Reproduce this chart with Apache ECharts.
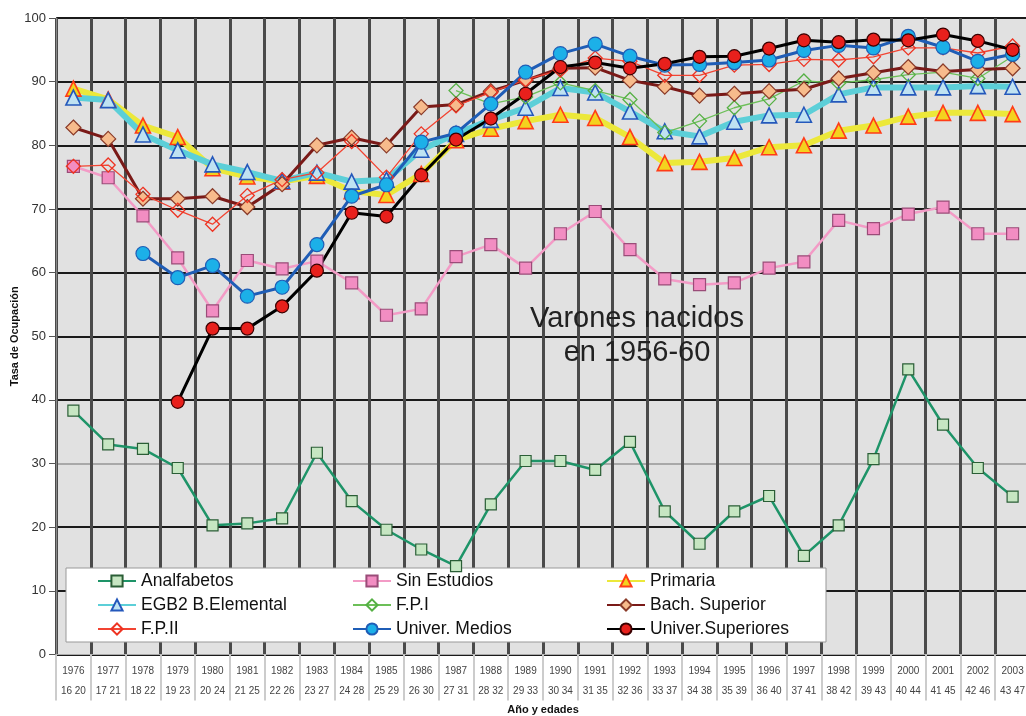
<!DOCTYPE html>
<html>
<head>
<meta charset="utf-8">
<script src="https://cdn.jsdelivr.net/npm/echarts@6/dist/echarts.min.js"></script>
<style>
html,body{margin:0;padding:0;background:#fff;}
#chart{width:1026px;height:716px;}
</style>
</head>
<body>
<div id="chart"></div>
<script>
const years = ['1976','1977','1978','1979','1980','1981','1982','1983','1984','1985','1986','1987','1988','1989','1990','1991','1992','1993','1994','1995','1996','1997','1998','1999','2000','2001','2002','2003'];
const ages = ['16 20','17 21','18 22','19 23','20 24','21 25','22 26','23 27','24 28','25 29','26 30','27 31','28 32','29 33','30 34','31 35','32 36','33 37','34 38','35 39','36 40','37 41','38 42','39 43','40 44','41 45','42 46','43 47'];
const yTicks = [0,10,20,30,40,50,60,70,80,90,100];

const analfabetos = [38.3,33.0,32.3,29.3,20.3,20.6,21.4,31.7,24.1,19.6,16.5,13.9,23.6,30.4,30.4,29.0,33.4,22.5,17.4,22.5,24.9,15.5,20.3,30.7,44.8,36.1,29.3,24.8];
const sinEstudios = [76.7,74.9,68.9,62.3,54.0,61.9,60.6,61.8,58.4,53.3,54.3,62.5,64.4,60.7,66.1,69.6,63.6,59.0,58.1,58.4,60.7,61.7,68.2,66.9,69.2,70.3,66.1,66.1];
const primaria = [88.9,87.2,83.1,81.3,76.4,75.1,74.3,75.2,72.8,72.2,75.5,80.8,82.6,83.8,84.8,84.3,81.3,77.2,77.4,78.0,79.7,80.0,82.3,83.1,84.5,85.1,85.1,84.9];
const egb2 = [87.5,87.1,81.7,79.2,77.0,75.8,74.4,75.7,74.3,74.6,79.3,81.8,84.0,85.9,89.0,88.3,85.3,82.2,81.4,83.7,84.7,84.8,88.0,89.1,89.1,89.1,89.3,89.2];
const fp1 = [null,null,null,null,null,null,null,null,null,null,null,88.6,86.5,87.6,89.8,88.6,87.2,82.0,83.8,85.9,87.3,90.1,89.8,90.3,91.1,91.5,90.5,94.0];
const bachSuperior = [82.8,81.0,71.6,71.6,72.0,70.3,73.9,80.0,81.2,80.0,86.0,86.4,88.5,90.2,92.1,92.2,90.2,89.2,87.8,88.1,88.5,88.8,90.5,91.4,92.3,91.6,91.9,92.1];
const fp2 = [76.7,76.9,72.3,69.8,67.6,72.1,74.6,75.7,80.6,75.0,81.8,86.2,88.3,90.3,91.8,93.7,93.2,91.0,91.0,92.6,92.7,93.5,93.4,93.9,95.3,95.3,94.5,95.6];
const univMedios = [null,null,63.0,59.2,61.1,56.3,57.7,64.4,72.0,73.8,80.5,81.9,86.5,91.5,94.4,95.9,94.0,92.6,92.7,93.0,93.4,94.9,95.7,95.3,97.1,95.4,93.2,94.3];
const univSuperiores = [null,null,null,39.7,51.2,51.2,54.7,60.3,69.4,68.8,75.3,80.9,84.2,88.1,92.3,93.0,92.1,92.8,93.9,94.0,95.2,96.5,96.2,96.6,96.5,97.4,96.4,95.0];

const FONT = "'Liberation Sans',Arial,sans-serif";

function mk(name, data, lineColor, lineWidth, symbol, size, fill, border, borderW) {
  return {
    name: name, type: 'line', data: data, symbol: symbol, symbolSize: size,
    lineStyle: { color: lineColor, width: lineWidth },
    itemStyle: { color: fill, borderColor: border, borderWidth: borderW || 1.2 },
    emphasis: { disabled: true }, animation: false
  };
}

const series = [
  mk('Analfabetos', analfabetos, '#1e9468', 2.5, 'rect', 11, '#c6e6c2', '#2a5e36'),
  mk('Sin Estudios', sinEstudios, '#f39bc6', 2.5, 'rect', 12, '#f28dc2', '#9a4c78'),
  mk('Primaria', primaria, '#ece83a', 6, 'triangle', 15, '#f4d21e', '#ff3c18', 1.6),
  mk('EGB2 B.Elemental', egb2, '#5ccfd8', 6, 'triangle', 15, '#bfe2f2', '#2458bb', 1.6),
  mk('F.P.I', fp1, '#6cbf58', 1.3, 'diamond', 14, 'rgba(0,0,0,0)', '#55b044', 1.3),
  mk('Bach. Superior', bachSuperior, '#7a1a18', 3, 'diamond', 15, '#f7bb8c', '#8a3a28', 1.2),
  mk('F.P.II', fp2, '#f24432', 1.3, 'diamond', 14, 'rgba(0,0,0,0)', '#ee3322', 1.3),
  mk('Univer. Medios', univMedios, '#1f5db6', 3, 'circle', 14, '#1cb0e8', '#1f5db6', 1.2),
  mk('Univer.Superiores', univSuperiores, '#000000', 3, 'circle', 13, '#e8201c', '#3a0000', 1.2)
];

const legendBase = {
  orient: 'vertical', top: 572, itemWidth: 38, itemHeight: 14, itemGap: 6,
  textStyle: { fontFamily: FONT, fontSize: 17.5, color: '#111' },
  selectedMode: false, backgroundColor: 'transparent', padding: 0
};

const chart = echarts.init(document.getElementById('chart'), null, { renderer: 'canvas' });
chart.setOption({
  animation: false,
  backgroundColor: '#ffffff',
  grid: { left: 56, right: -4, top: 18, bottom: 61.5, show: true, backgroundColor: '#e1e1e1', borderWidth: 0,
    containLabel: false, outerBoundsMode: 'none' },
  xAxis: {
    type: 'category', data: years, boundaryGap: true,
    name: 'Año y edades', nameLocation: 'middle', nameGap: 50, nameMoveOverlap: false,
    nameTextStyle: { fontFamily: FONT, fontSize: 11, fontWeight: 'bold', color: '#111' },
    axisLine: { show: true, lineStyle: { color: '#aaaaaa', width: 1 } },
    axisTick: { show: true, length: 46, lineStyle: { color: '#cccccc', width: 2 } },
    axisLabel: {
      interval: 0, margin: 7, fontFamily: FONT, fontSize: 10, color: '#444', lineHeight: 20,
      formatter: function (v, i) { return years[i] + '\n' + ages[i]; }
    },
    splitLine: { show: true, interval: 0, lineStyle: { color: '#4a4a4a', width: 3 } }
  },
  yAxis: {
    type: 'value', min: 0, max: 100, interval: 10,
    name: 'Tasa de Ocupación', nameLocation: 'middle', nameGap: 36, nameRotate: 90, nameMoveOverlap: false,
    nameTextStyle: { fontFamily: FONT, fontSize: 11, fontWeight: 'bold', color: '#111' },
    axisLine: { show: true, lineStyle: { color: '#888', width: 1 } },
    axisTick: { show: true, length: 7, lineStyle: { color: '#555' } },
    axisLabel: { margin: 10, fontFamily: FONT, fontSize: 13, color: '#333',
      formatter: function (v) { return yTicks.indexOf(v) >= 0 ? String(v) : ''; } },
    splitLine: { show: true, lineStyle: { color: ['#1a1a1a','#1a1a1a','#1a1a1a','#a8a8a8','#1a1a1a','#1a1a1a','#1a1a1a','#1a1a1a','#1a1a1a','#1a1a1a','#1a1a1a'], width: 2 } }
  },
  legend: [
    Object.assign({}, legendBase, { left: 97, data: ['Analfabetos', 'EGB2 B.Elemental', 'F.P.II'] }),
    Object.assign({}, legendBase, { left: 352, data: ['Sin Estudios', 'F.P.I', 'Univer. Medios'] }),
    Object.assign({}, legendBase, { left: 606, data: ['Primaria', 'Bach. Superior', 'Univer.Superiores'] })
  ],
  graphic: [
    { type: 'rect', z: 3, shape: { x: 66, y: 568, width: 760, height: 74 },
      style: { fill: '#ffffff', stroke: '#999999', lineWidth: 1 } },
    { type: 'text', z: 5, style: { text: 'Varones nacidos\nen 1956-60', x: 637, y: 336, textAlign: 'center', textVerticalAlign: 'middle',
      font: "29px 'Liberation Sans', Arial, sans-serif", fill: '#222', lineHeight: 34 } }
  ],
  series: series
});
</script>
</body>
</html>
